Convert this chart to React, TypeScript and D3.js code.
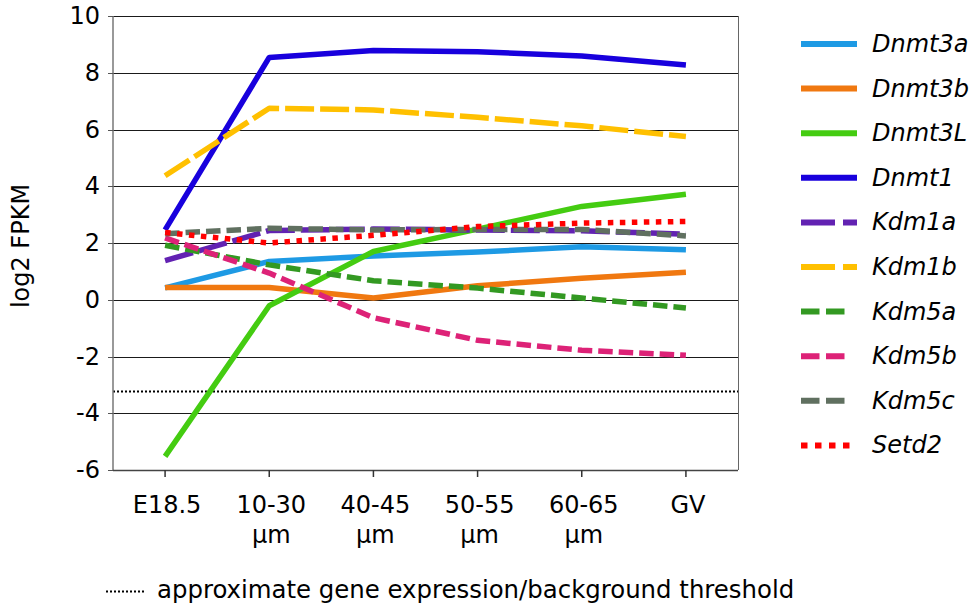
import React from "react";
import * as d3 from "d3";

const categories = ["E18.5", "10-30|µm", "40-45|µm", "50-55|µm", "60-65|µm", "GV"];
const yTicks = [-6, -4, -2, 0, 2, 4, 6, 8, 10];

const seriesNames = ["Dnmt3a", "Dnmt3b", "Dnmt3L", "Dnmt1", "Kdm1a", "Kdm1b", "Kdm5a", "Kdm5b", "Kdm5c", "Setd2"];
const dnmt3a = [0.42, 1.35, 1.54, 1.68, 1.87, 1.76];
const dnmt3b = [0.43, 0.43, 0.06, 0.49, 0.76, 0.97];
const dnmt3L = [-5.52, -0.21, 1.7, 2.49, 3.29, 3.72];
const dnmt1 = [2.46, 8.54, 8.78, 8.74, 8.59, 8.27];
const kdm1a = [1.38, 2.44, 2.49, 2.46, 2.43, 2.31];
const kdm1b = [4.37, 6.75, 6.69, 6.43, 6.13, 5.75];
const kdm5a = [1.92, 1.23, 0.67, 0.41, 0.06, -0.29];
const kdm5b = [2.18, 0.94, -0.63, -1.43, -1.78, -1.96];
const kdm5c = [2.33, 2.52, 2.46, 2.48, 2.48, 2.25];
const setd2 = [2.37, 2.0, 2.27, 2.58, 2.7, 2.76];
const seriesValues = [dnmt3a, dnmt3b, dnmt3L, dnmt1, kdm1a, kdm1b, kdm5a, kdm5b, kdm5c, setd2];
const seriesColors = ["#1E9AE4", "#F07810", "#44CC11", "#1800DD", "#6222B2", "#FFC000", "#339922", "#DD2277", "#607060", "#FF0000"];
const seriesStyles = ["solid", "solid", "solid", "solid", "longdash", "longdash", "dash", "dash", "dash", "dot"];

const thresholdValue = -3.23;
const thresholdLabel = "approximate gene expression/background threshold";
const yTitle = "log2 FPKM";

const chartDash: Record<string, string | undefined> = {
  solid: undefined,
  longdash: "29,6",
  dash: "14.5,6",
  dot: "5.5,6.5",
};
const legendDash: Record<string, string | undefined> = {
  solid: undefined,
  longdash: "34,8",
  dash: "18.5,6.5",
  dot: "6.5,7.5",
};
const legendLen: Record<string, number> = { solid: 56, longdash: 56, dash: 44, dot: 50 };

const FONT = "'DejaVu Sans', Verdana, sans-serif";

export default function App() {
  const W = 972, H = 609;
  const left = 113, right = 738, top = 16, bottom = 470;
  const x = d3.scaleBand<string>().domain(categories).range([left, right]).padding(0);
  const cx = (c: string) => (x(c) as number) + x.bandwidth() / 2;
  const y = d3.scaleLinear().domain([-6, 10]).range([bottom, top]);
  const line = d3
    .line<number>()
    .x((_, i) => cx(categories[i]))
    .y((v) => y(v));

  return (
    <svg width={W} height={H} style={{ position: "fixed", left: 0, top: 0, background: "#fff" }} fontFamily={FONT}>
      <rect x={0} y={0} width={W} height={H} fill="#fff" />
      {yTicks.map((t) => (
        <line key={t} x1={left} x2={right} y1={Math.round(y(t)) + 0.5} y2={Math.round(y(t)) + 0.5} stroke="#1a1a1a" strokeWidth={1} />
      ))}
      <line x1={right + 0.5} x2={right + 0.5} y1={top} y2={bottom} stroke="#666" strokeWidth={1} />
      <line x1={left} x2={right} y1={y(thresholdValue)} y2={y(thresholdValue)} stroke="#000" strokeWidth={2} strokeDasharray="2,2" />
      <line x1={left} x2={left} y1={top} y2={bottom + 1} stroke="#777" strokeWidth={1.5} />
      <line x1={left} x2={right} y1={bottom + 0.5} y2={bottom + 0.5} stroke="#444" strokeWidth={1.5} />
      {yTicks.map((t) => (
        <g key={"yt" + t}>
          <line x1={left - 5} x2={left} y1={Math.round(y(t)) + 0.5} y2={Math.round(y(t)) + 0.5} stroke="#555" strokeWidth={1} />
          <text x={100} y={y(t)} textAnchor="end" dominantBaseline="central" fontSize={24} fill="#000">
            {t}
          </text>
        </g>
      ))}
      {categories.map((c) => {
        const parts = c.split("|");
        return (
          <g key={c}>
            <line x1={cx(c)} x2={cx(c)} y1={bottom} y2={bottom + 7} stroke="#333" strokeWidth={1.5} />
            {parts.map((p, i) => (
              <text key={i} x={cx(c) + 2} y={513 + i * 30} textAnchor="middle" fontSize={24} fill="#000">
                {p}
              </text>
            ))}
          </g>
        );
      })}
      <text transform={`translate(29,246) rotate(-90)`} textAnchor="middle" fontSize={24} fill="#000">
        {yTitle}
      </text>
      {seriesValues.map((vals, i) => (
        <path
          key={seriesNames[i]}
          d={line(vals) as string}
          fill="none"
          stroke={seriesColors[i]}
          strokeWidth={5.5}
          strokeLinejoin="round"
          strokeDasharray={chartDash[seriesStyles[i]]}
        />
      ))}
      {seriesNames.map((n, i) => {
        const ly = 44 + i * 44.6;
        const st = seriesStyles[i];
        return (
          <g key={"lg" + n}>
            <line x1={801} x2={801 + legendLen[st]} y1={ly} y2={ly} stroke={seriesColors[i]} strokeWidth={6} strokeDasharray={legendDash[st]} />
            <text x={872} y={ly} dominantBaseline="central" fontSize={24} fontStyle="italic" fill="#000">
              {n}
            </text>
          </g>
        );
      })}
      <line x1={106} x2={144} y1={591.5} y2={591.5} stroke="#000" strokeWidth={2} strokeDasharray="2,2" />
      <text x={157} y={598} fontSize={24.4} fill="#000">
        {thresholdLabel}
      </text>
    </svg>
  );
}
